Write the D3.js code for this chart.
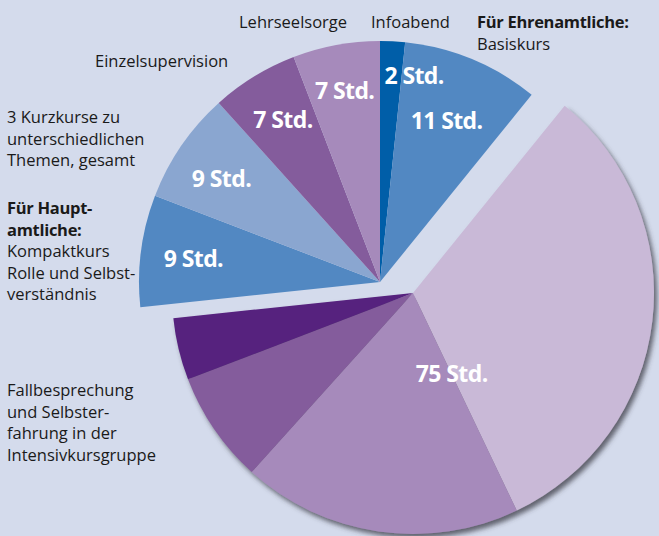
<!DOCTYPE html>
<html><head><meta charset="utf-8">
<script src="https://cdn.jsdelivr.net/npm/d3@7"></script>
<style>
html,body{margin:0;padding:0;background:#d4dbec;}
svg{display:block;}
</style></head>
<body>
<svg id="chart" width="659" height="536"></svg>
<script>
// ---- data ----
const categories = ["Infoabend", "Basiskurs", "Intensivkurs Teil 1", "Intensivkurs Teil 2", "Intensivkurs Teil 3", "Intensivkurs Teil 4", "Kompaktkurs", "Kurzkurse", "Einzelsupervision", "Lehrseelsorge"];
const hours = [2, 11, 38.5, 22.5, 9, 5, 9, 9, 7, 7];
const groups = ["top", "top", "intensiv", "intensiv", "intensiv", "intensiv", "top", "top", "top", "top"];
const unit = "Std.";
const sliceColors = ["#005ea8", "#5288c2", "#c9b9d7", "#a68abb", "#845c9c", "#56217e", "#5288c2", "#8aa6d0", "#845c9c", "#a68abb"];

// outside text blocks: lines with bold flag
const outsideLabels = [
  {x: 239, y: 28, lines: [["Lehrseelsorge", false]]},
  {x: 371, y: 28, lines: [["Infoabend", false]]},
  {x: 477, y: 28, lines: [["Für Ehrenamtliche:", true], ["Basiskurs", false]]},
  {x: 95, y: 67, lines: [["Einzelsupervision", false]]},
  {x: 7, y: 123, lines: [["3 Kurzkurse zu", false], ["unterschiedlichen", false], ["Themen, gesamt", false]]},
  {x: 7, y: 214, lines: [["Für Haupt-", true], ["amtliche:", true], ["Kompaktkurs", false], ["Rolle und Selbst-", false], ["verständnis", false]]},
  {x: 7, y: 396, lines: [["Fallbesprechung", false], ["und Selbster-", false], ["fahrung in der", false], ["Intensivkursgruppe", false]]}
];

// ---- layout ----
const R = 241;
const centers = {top: [380, 282], intensiv: [413, 293]};
// label placement per slice (radius, angle nudge in degrees)
const labelR = [209, 174, 0, 0, 0, 0, 188, 189, 189, 194];
const labelDA = [6.4, 0, 0, 0, 0, 0, -0.5, -1.5, 0.6, 0];
const groupLabel = {r: 90, dA: 3};

const svg = d3.select("#chart");
const defs = svg.append("defs");
const f = defs.append("filter").attr("id", "shadow").attr("x", "-20%").attr("y", "-20%").attr("width", "140%").attr("height", "140%");
f.append("feDropShadow").attr("dx", 3).attr("dy", 4).attr("stdDeviation", 2.5)
  .attr("flood-color", "#3a3a44").attr("flood-opacity", 0.75);

const data = categories.map((c, i) => ({cat: c, value: hours[i], group: groups[i], color: sliceColors[i], idx: i}));
const pie = d3.pie().sort(null).value(d => d.value).startAngle(0).endAngle(2 * Math.PI);
const arcs = pie(data);
const arc = d3.arc().innerRadius(0).outerRadius(R);

const gIntensiv = svg.append("g")
  .attr("transform", `translate(${centers.intensiv[0]},${centers.intensiv[1]})`)
  .attr("filter", "url(#shadow)");
const gTop = svg.append("g")
  .attr("transform", `translate(${centers.top[0]},${centers.top[1]})`);

gIntensiv.selectAll("path").data(arcs.filter(a => a.data.group === "intensiv")).join("path")
  .attr("d", arc).attr("fill", a => a.data.color);
gTop.selectAll("path").data(arcs.filter(a => a.data.group === "top")).join("path")
  .attr("d", arc).attr("fill", a => a.data.color);

const fmt = v => `${v} ${unit}`;
const valStyle = sel => sel.attr("fill", "#fff").attr("font-family", "'Open Sans', sans-serif")
  .attr("font-weight", 700).attr("font-size", 23).attr("letter-spacing", -0.6)
  .attr("text-anchor", "middle").attr("dy", "0.35em");

// labels for top slices
gTop.selectAll("text").data(arcs.filter(a => a.data.group === "top")).join("text")
  .call(valStyle)
  .attr("x", a => { const ang = (a.startAngle + a.endAngle) / 2 + labelDA[a.data.idx] * Math.PI / 180; return labelR[a.data.idx] * Math.sin(ang); })
  .attr("y", a => { const ang = (a.startAngle + a.endAngle) / 2 + labelDA[a.data.idx] * Math.PI / 180; return -labelR[a.data.idx] * Math.cos(ang); })
  .text(a => fmt(a.data.value));

// group label
const intensivArcs = arcs.filter(a => a.data.group === "intensiv");
const gStart = d3.min(intensivArcs, a => a.startAngle), gEnd = d3.max(intensivArcs, a => a.endAngle);
const gSum = d3.sum(intensivArcs, a => a.data.value);
const gAng = (gStart + gEnd) / 2 + groupLabel.dA * Math.PI / 180;
svg.append("text").call(valStyle)
  .attr("x", centers.intensiv[0] + groupLabel.r * Math.sin(gAng))
  .attr("y", centers.intensiv[1] - groupLabel.r * Math.cos(gAng))
  .text(fmt(gSum));

// outside labels
const lh = 21.6;
outsideLabels.forEach(b => {
  const t = svg.append("text").attr("font-family", "'Open Sans', sans-serif")
    .attr("font-size", 16.5).attr("fill", "#1a1a1a");
  b.lines.forEach((ln, i) => {
    t.append("tspan").attr("x", b.x).attr("y", b.y + i * lh)
      .attr("font-weight", ln[1] ? 700 : 400)
      .attr("letter-spacing", ln[1] ? -0.3 : 0).text(ln[0]);
  });
});
</script>
</body></html>
